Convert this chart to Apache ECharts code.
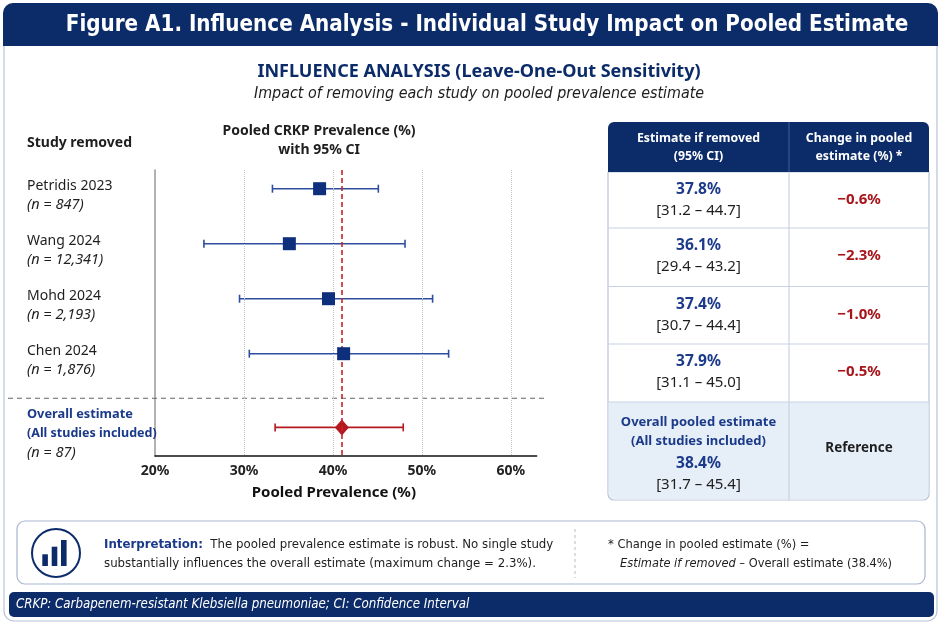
<!DOCTYPE html>
<html><head><meta charset="utf-8">
<script src="https://cdn.jsdelivr.net/npm/echarts@6/dist/echarts.min.js"></script>
<style>html,body{margin:0;padding:0;background:#fff}#c{width:941px;height:627px}</style>
</head><body><div id="c"></div>
<script>
// ---- data ----
const studyNames = ['Petridis 2023', 'Wang 2024', 'Mohd 2024', 'Chen 2024'];
const sampleSizes = ['847', '12,341', '2,193', '1,876'];
const plotEstimate = [38.5, 35.1, 39.5, 41.2];
const plotLower = [33.2, 25.5, 29.5, 30.6];
const plotUpper = [45.1, 48.1, 51.2, 53.0];
const overallLabel = ['Overall estimate', '(All studies included)'];
const overallN = '87';
const overallPlot = [41.0];
const overallLower = [33.5];
const overallUpper = [47.9];
const xTicks = [20, 30, 40, 50, 60];
const tableEstimate = ['37.8%', '36.1%', '37.4%', '37.9%'];
const tableCI = ['[31.2 – 44.7]', '[29.4 – 43.2]', '[30.7 – 44.4]', '[31.1 – 45.0]'];
const tableChange = ['−0.6%', '−2.3%', '−1.0%', '−0.5%'];
const overallTableEstimate = '38.4%';
const overallTableCI = '[31.7 – 45.4]';

// ---- style ----
const NAVY = '#0c2b69', BLUE_TXT = '#1b3a8a', BAR_BLUE = '#2e4d9c', MARK = '#0d2f7c', RED = '#b3191e', RED_TXT = '#a8151b';
const BORDER = '#b7c3d8', DARK = '#1e1e1e';
const FONT = "'Noto Sans', sans-serif";
const NARROW = "'Liberation Sans Narrow', 'DejaVu Sans Condensed', 'Liberation Sans', sans-serif";

const gridTop = 170, gridBottomY = 456, yMax = 5.2;
const rowPos = i => 0.34 + i;
const overallPos = 4.68;
const sepPos = 4.15;
const yPix = v => gridTop + v / yMax * (gridBottomY - gridTop);

function T(x, y, text, o) {
  o = o || {};
  return { type: 'text', x: x, y: y, z: 20, silent: true, style: {
    text: text, fill: o.fill || DARK, fontSize: o.size || 14, fontWeight: o.weight || 'normal',
    fontStyle: o.style || 'normal', fontFamily: o.family || FONT,
    align: o.align || 'left', verticalAlign: 'middle', rich: o.rich } };
}

const g = [];
// outer frame & title bar
g.push({ type: 'rect', z: 1, silent: true, shape: { x: 4, y: 4, width: 933, height: 617, r: 10 }, style: { fill: 'none', stroke: BORDER, lineWidth: 1.2 } });
g.push({ type: 'rect', z: 2, silent: true, shape: { x: 3, y: 3, width: 935, height: 43, r: [10, 10, 0, 0] }, style: { fill: NAVY } });
g.push(T(487, 25, 'Figure A1. Influence Analysis - Individual Study Impact on Pooled Estimate', { fill: '#fff', size: 22.2, weight: 'bold', family: NARROW, align: 'center' }));
g.push(T(479, 72, 'INFLUENCE ANALYSIS (Leave-One-Out Sensitivity)', { fill: NAVY, size: 18, weight: 'bold', align: 'center' }));
g.push(T(479, 94, 'Impact of removing each study on pooled prevalence estimate', { fill: DARK, size: 15.9, style: 'italic', family: NARROW, align: 'center' }));

// forest plot headers & labels
g.push(T(27, 143, 'Study removed', { size: 14, weight: 'bold' }));
g.push(T(319, 131, 'Pooled CRKP Prevalence (%)', { size: 14, weight: 'bold', align: 'center' }));
g.push(T(319, 150, 'with 95% CI', { size: 14, weight: 'bold', align: 'center' }));
studyNames.forEach((s, i) => {
  const y = yPix(rowPos(i));
  g.push(T(27, y - 3, s, { size: 14 }));
  g.push(T(27, y + 16, '(n = ' + sampleSizes[i] + ')', { size: 14.5, style: 'italic' }));
});
const oy = yPix(overallPos);
g.push(T(27, oy - 13, overallLabel[0], { size: 12.8, weight: 'bold', fill: BLUE_TXT }));
g.push(T(27, oy + 6, overallLabel[1], { size: 12.5, weight: 'bold', fill: BLUE_TXT }));
g.push(T(27, oy + 25, '(n = ' + overallN + ')', { size: 14.5, style: 'italic' }));
g.push({ type: 'line', z: 5, silent: true, shape: { x1: 8, y1: yPix(sepPos), x2: 545, y2: yPix(sepPos) }, style: { stroke: '#666', lineWidth: 1.2, lineDash: [5, 4] } });

// table
const TL = 608, TR = 929, TC = 789, c1 = (TL + TC) / 2, c2 = (TC + TR) / 2;
const rowTops = [172, 228, 286.5, 344, 402], tBottom = 500;
g.push({ type: 'rect', z: 3, silent: true, shape: { x: TL, y: 172, width: TR - TL, height: tBottom - 172, r: [0, 0, 6, 6] }, style: { fill: '#fff', stroke: BORDER, lineWidth: 1.2 } });
g.push({ type: 'rect', z: 4, silent: true, shape: { x: TL + 0.6, y: 402, width: TR - TL - 1.2, height: tBottom - 402 - 0.6, r: [0, 0, 6, 6] }, style: { fill: '#e6eef8' } });
g.push({ type: 'rect', z: 4, silent: true, shape: { x: TL, y: 122, width: TR - TL, height: 50, r: [6, 6, 0, 0] }, style: { fill: NAVY } });
for (let k = 1; k < rowTops.length; k++) {
  g.push({ type: 'line', z: 5, silent: true, shape: { x1: TL, y1: rowTops[k], x2: TR, y2: rowTops[k] }, style: { stroke: '#c9d2e3', lineWidth: 1.2 } });
}
g.push({ type: 'line', z: 5, silent: true, shape: { x1: TC, y1: 122, x2: TC, y2: 172 }, style: { stroke: '#3d5790', lineWidth: 1.2 } });
g.push({ type: 'line', z: 5, silent: true, shape: { x1: TC, y1: 172, x2: TC, y2: tBottom }, style: { stroke: '#c9d2e3', lineWidth: 1.2 } });
g.push(T(c1, 138, 'Estimate if removed', { fill: '#fff', size: 12.3, weight: 'bold', align: 'center' }));
g.push(T(c1, 156.5, '(95% CI)', { fill: '#fff', size: 12.3, weight: 'bold', align: 'center' }));
g.push(T(c2, 138, 'Change in pooled', { fill: '#fff', size: 12.3, weight: 'bold', align: 'center' }));
g.push(T(c2, 156.5, 'estimate (%) *', { fill: '#fff', size: 12.3, weight: 'bold', align: 'center' }));
tableEstimate.forEach((e, i) => {
  const top = rowTops[i];
  g.push(T(c1, top + 18, e, { fill: BLUE_TXT, size: 15.5, weight: 'bold', align: 'center' }));
  g.push(T(c1, top + 39, tableCI[i], { size: 15, align: 'center' }));
  g.push(T(c2, top + 28, tableChange[i], { fill: RED_TXT, size: 15, weight: 'bold', align: 'center' }));
});
g.push(T(c1, 422, 'Overall pooled estimate', { fill: BLUE_TXT, size: 13, weight: 'bold', align: 'center' }));
g.push(T(c1, 441.5, '(All studies included)', { fill: BLUE_TXT, size: 13, weight: 'bold', align: 'center' }));
g.push(T(c1, 464, overallTableEstimate, { fill: BLUE_TXT, size: 15.5, weight: 'bold', align: 'center' }));
g.push(T(c1, 485, overallTableCI, { size: 15, align: 'center' }));
g.push(T(c2, 448.5, 'Reference', { size: 13.4, weight: 'bold', align: 'center' }));

// interpretation box
g.push({ type: 'rect', z: 3, silent: true, shape: { x: 17, y: 521, width: 908, height: 63, r: 8 }, style: { fill: '#fff', stroke: '#a9b6cf', lineWidth: 1.2 } });
g.push({ type: 'circle', z: 5, silent: true, shape: { cx: 56, cy: 553, r: 24 }, style: { fill: 'none', stroke: NAVY, lineWidth: 2 } });
[[42.3, 554.3], [51.7, 546.7], [61, 540]].forEach(b => {
  g.push({ type: 'rect', z: 5, silent: true, shape: { x: b[0], y: b[1], width: 5.6, height: 566 - b[1] }, style: { fill: NAVY } });
});
g.push(T(104, 545, '{b|Interpretation:}  The pooled prevalence estimate is robust. No single study', { size: 13.1, family: NARROW,
  rich: { b: { fontWeight: 'bold', fill: BLUE_TXT, fontSize: 13.1, fontFamily: NARROW } } }));
g.push(T(104, 564, 'substantially influences the overall estimate (maximum change = 2.3%).', { size: 13.1, family: NARROW }));
g.push({ type: 'line', z: 5, silent: true, shape: { x1: 575, y1: 529, x2: 575, y2: 578 }, style: { stroke: '#bbb', lineWidth: 1, lineDash: [3, 3] } });
g.push(T(608, 545, '* Change in pooled estimate (%) =', { size: 12.8, family: NARROW }));
g.push(T(620, 564, '{i|Estimate if removed} – Overall estimate (38.4%)', { size: 12.7, family: NARROW,
  rich: { i: { fontStyle: 'italic', fontSize: 12.7, fontFamily: NARROW, fill: DARK } } }));

// footer
g.push({ type: 'rect', z: 3, silent: true, shape: { x: 9, y: 592, width: 925, height: 25, r: 5 }, style: { fill: NAVY } });
g.push(T(16, 605, 'CRKP: Carbapenem-resistant Klebsiella pneumoniae; CI: Confidence Interval', { fill: '#fff', size: 13.2, style: 'italic', family: NARROW }));

function errorBar(color) {
  return function (params, api) {
    const a = api.coord([api.value(0), api.value(3)]);
    const b = api.coord([api.value(1), api.value(3)]);
    const st = { stroke: color, lineWidth: 1.6 };
    const c = 4;
    return { type: 'group', children: [
      { type: 'line', shape: { x1: a[0], y1: a[1], x2: b[0], y2: b[1] }, style: st },
      { type: 'line', shape: { x1: a[0], y1: a[1] - c, x2: a[0], y2: a[1] + c }, style: st },
      { type: 'line', shape: { x1: b[0], y1: b[1] - c, x2: b[0], y2: b[1] + c }, style: st }
    ] };
  };
}

const chart = echarts.init(document.getElementById('c'), null, { renderer: 'canvas' });
chart.setOption({
  animation: false,
  backgroundColor: '#fff',
  textStyle: { fontFamily: FONT },
  grid: { left: 155, right: 404.3, top: gridTop, bottom: 627 - gridBottomY, containLabel: false },
  xAxis: {
    type: 'value', min: 20, max: 62.9, interval: 10, position: 'bottom',
    axisLine: { show: true, onZero: false, lineStyle: { color: '#111', width: 1.5 } },
    axisTick: { show: false }, splitLine: { show: false },
    axisLabel: { margin: 8, color: '#222', fontSize: 14, fontWeight: 'bold', fontFamily: FONT,
      formatter: v => (xTicks.indexOf(v) >= 0 ? v + '%' : '') },
    name: 'Pooled Prevalence (%)', nameLocation: 'middle', nameGap: 29,
    nameTextStyle: { color: '#111', fontSize: 15, fontWeight: 'bold', fontFamily: FONT, padding: [0, 24, 0, 0] }
  },
  yAxis: {
    type: 'value', min: 0, max: yMax, inverse: true,
    axisLine: { show: true, onZero: false, lineStyle: { color: '#999', width: 1.5 } },
    axisTick: { show: false }, axisLabel: { show: false }, splitLine: { show: false }
  },
  graphic: { elements: g },
  series: [
    { type: 'line', data: [], z: 1, silent: true,
      markLine: { silent: true, symbol: 'none', label: { show: false },
        lineStyle: { type: 'dotted', color: '#c4c4c4', width: 1 },
        data: xTicks.filter(v => v > 20).map(v => ({ xAxis: v })) } },
    { type: 'custom', z: 3, silent: true, renderItem: errorBar(BAR_BLUE), encode: { x: [0, 1], y: 3 },
      data: studyNames.map((s, i) => [plotLower[i], plotUpper[i], plotEstimate[i], rowPos(i)]) },
    { type: 'custom', z: 3, silent: true, renderItem: errorBar(RED), encode: { x: [0, 1], y: 3 },
      data: overallPlot.map((v, i) => [overallLower[i], overallUpper[i], v, overallPos]) },
    { type: 'scatter', z: 6, symbol: 'rect', symbolSize: 13, itemStyle: { color: MARK, opacity: 1 },
      data: plotEstimate.map((v, i) => [v, rowPos(i)]) },
    { type: 'scatter', z: 4, symbol: 'diamond', symbolSize: [14, 16], itemStyle: { color: RED, opacity: 1 },
      data: overallPlot.map(v => [v, overallPos]),
      markLine: { silent: true, symbol: 'none', label: { show: false },
        lineStyle: { type: [5, 3], color: '#c8262c', width: 1.6 },
        data: overallPlot.map(v => ({ xAxis: v })) } }
  ]
});
</script>
</body></html>
